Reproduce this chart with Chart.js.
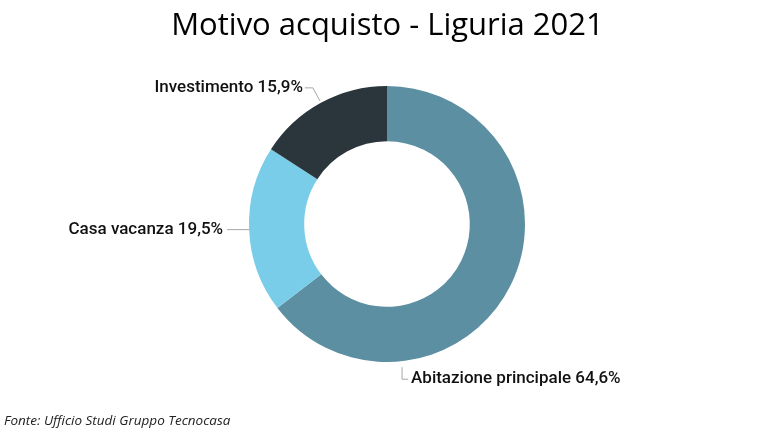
<!DOCTYPE html>
<html lang="it">
<head>
    <meta charset="UTF-8">
    <title>Motivo acquisto - Liguria 2021</title>
    <script src="https://cdn.jsdelivr.net/npm/chart.js"></script>
    <style>
        html, body { margin: 0; padding: 0; background: #fff; }
        #wrap { width: 775px; height: 442px; position: relative; }
    </style>
</head>
<body>
    <div id="wrap"><canvas id="chart" width="775" height="442"></canvas></div>

    <script>
        const labels = ["Abitazione principale", "Casa vacanza", "Investimento"];
        const values = [64.6, 19.5, 15.9];
        const colors = ["#5b8fa1", "#7acde8", "#2a363c"];
        const titleText = "Motivo acquisto - Liguria 2021";
        const sourceText = "Fonte: Ufficio Studi Gruppo Tecnocasa";

        const labelFont = "500 17px Roboto";

        // leader lines + labels, computed from the arc geometry
        const calloutPlugin = {
            id: "callouts",
            afterDatasetsDraw(chart) {
                const ctx = chart.ctx;
                const arcs = chart.getDatasetMeta(0).data;
                ctx.save();
                ctx.font = labelFont;
                ctx.fillStyle = "#111";
                ctx.strokeStyle = "#a6a6a6";
                ctx.lineWidth = 1;
                ctx.textBaseline = "middle";

                arcs.forEach((arc, i) => {
                    const cx = arc.x, cy = arc.y, r = arc.outerRadius;
                    const txt = labels[i] + " " + values[i].toFixed(1).replace(".", ",") + "%";
                    let mid = (arc.startAngle + arc.endAngle) / 2;
                    if (i === 0) {
                        // label moved below the ring
                        const a = (174 - 90) * Math.PI / 180;
                        const x0 = cx + (r + 6) * Math.cos(a);
                        const y0 = cy + (r + 6) * Math.sin(a);
                        ctx.beginPath();
                        ctx.moveTo(x0, y0);
                        ctx.lineTo(x0, y0 + 12);
                        ctx.lineTo(x0 + 6, y0 + 12);
                        ctx.stroke();
                        ctx.textAlign = "left";
                        ctx.fillText(txt, x0 + 9, y0 + 12);
                    } else if (i === 1) {
                        const x0 = cx + r * Math.cos(mid);
                        const y0 = cy + r * Math.sin(mid);
                        ctx.beginPath();
                        ctx.moveTo(x0, y0);
                        ctx.lineTo(x0 - 22, y0);
                        ctx.stroke();
                        ctx.textAlign = "right";
                        ctx.fillText(txt, x0 - 26, y0);
                    } else {
                        const x0 = cx + r * Math.cos(mid) - 1;
                        const y0 = cy + r * Math.sin(mid) - 2;
                        ctx.beginPath();
                        ctx.moveTo(x0, y0);
                        ctx.lineTo(x0 - 7, y0 - 13);
                        ctx.lineTo(x0 - 15, y0 - 13);
                        ctx.stroke();
                        ctx.textAlign = "right";
                        ctx.fillText(txt, x0 - 17, y0 - 13);
                    }
                });

                // title and source
                ctx.fillStyle = "#000";
                ctx.textBaseline = "alphabetic";
                ctx.textAlign = "center";
                ctx.font = "31px 'Open Sans'";
                ctx.fillText(titleText, chart.width / 2, 35);
                ctx.textAlign = "left";
                ctx.font = "italic 13.5px 'Open Sans'";
                ctx.fillStyle = "#222";
                ctx.fillText(sourceText, 4, 425);
                ctx.restore();
            }
        };

        new Chart(document.getElementById("chart"), {
            type: "doughnut",
            data: {
                labels: labels,
                datasets: [{
                    data: values,
                    backgroundColor: colors,
                    borderWidth: 0
                }]
            },
            options: {
                responsive: false,
                animation: false,
                cutout: "60%",
                layout: { padding: { top: 86, bottom: 80, left: 100, right: 101 } },
                plugins: {
                    legend: { display: false },
                    tooltip: { enabled: false }
                }
            },
            plugins: [calloutPlugin]
        });
    </script>
</body>
</html>
